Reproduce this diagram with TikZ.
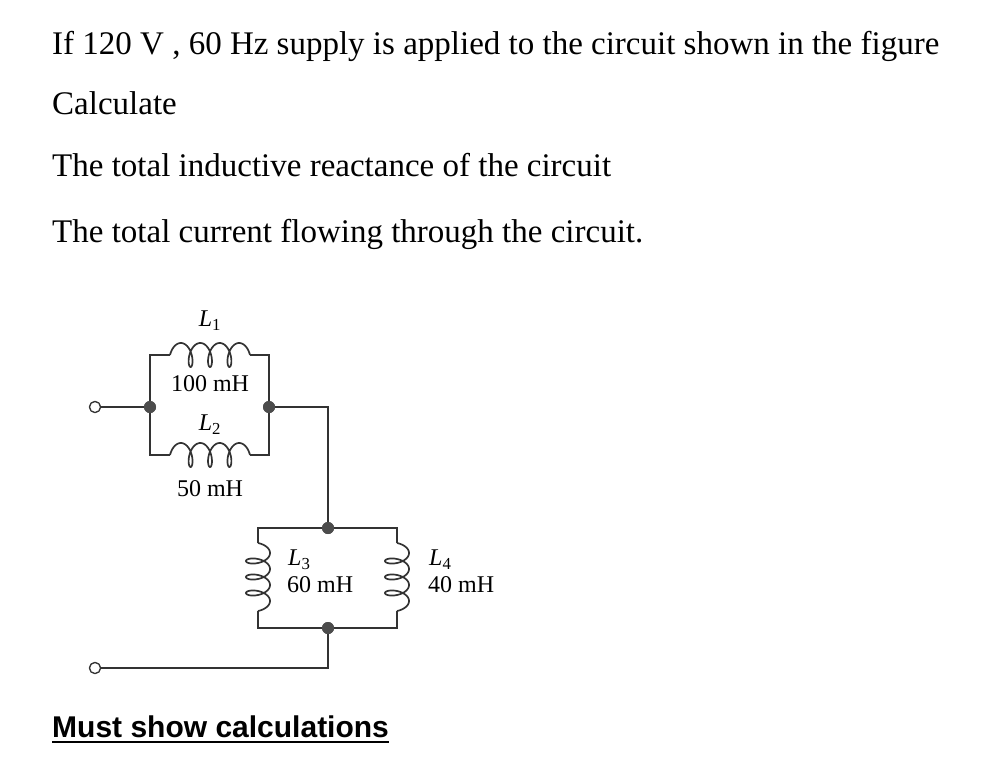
\documentclass[tikz,border=0pt]{standalone}
\usepackage{fontspec}
\setmainfont{Liberation Serif}
\setsansfont{Liberation Sans}
\tikzset{
 wire/.style={line width=1.7pt, draw=black!80},
 dot/.style={circle, fill=black!70, inner sep=0pt, minimum size=12pt},
 term/.style={circle, draw=black!80, fill=white, line width=1.2pt, inner sep=0pt, minimum size=11pt},
 qtext/.style={anchor=base west, inner sep=0pt, font=\fontsize{33}{38}\selectfont},
 lab/.style={inner sep=0pt, font=\fontsize{24}{26}\selectfont}
}
\newcommand{\mycoil}[4]{% x0,y0,rotation,length
 \begin{scope}[shift={(#1,#2)}, x=1pt, y=1pt, rotate=#3]
 \pgfmathsetmacro{\cc}{(#4-12)/(7*pi)}
 \draw[wire] plot[domain=1.5708:23.562, samples=240, smooth] ({\cc*(\x-1.5708)-6*sin(\x r)+6},{-12*cos(\x r)});
 \end{scope}}
\begin{document}
\begin{tikzpicture}[x=1pt,y=-1pt]
\useasboundingbox (0,0) rectangle (992,770);
\node[qtext] (t1) at (52,55) {If 120 V , 60 Hz supply is applied to the circuit shown in the figure};
\node[qtext] (t2) at (52,115) {Calculate};
\node[qtext] (t3) at (52,177) {The total inductive reactance of the circuit};
\node[qtext] (t4) at (52,242) {The total current flowing through the circuit.};
\node[anchor=base west, inner sep=0pt, font=\sffamily\bfseries\fontsize{30}{34}\selectfont] (t5) at (52,737) {Must show calculations};
\draw[line width=1.8pt] ([yshift=-5pt]t5.base west) -- ([yshift=-5pt]t5.base east);
% nodes
\node[dot] (a) at (150,407) {};
\node[dot] (b) at (269,407) {};
\node[dot] (c) at (328,528) {};
\node[dot] (d) at (328,628) {};
\node[term] (ta) at (95,407) {};
\node[term] (tb) at (95,668) {};
\coordinate (a1) at (150,355); \coordinate (b1) at (269,355);
\coordinate (a2) at (150,455); \coordinate (b2) at (269,455);
\coordinate (l1s) at (170,355); \coordinate (l1e) at (250,355);
\coordinate (l2s) at (170,455); \coordinate (l2e) at (250,455);
\coordinate (bc) at (328,407);
\coordinate (cl) at (258,528); \coordinate (cr) at (397,528);
\coordinate (dl) at (258,628); \coordinate (dr) at (397,628);
\coordinate (l3s) at (258,543); \coordinate (l3e) at (258,611);
\coordinate (l4s) at (397,543); \coordinate (l4e) at (397,611);
\coordinate (tbc) at (328,668);
\draw[wire] (ta) -- (a);
\draw[wire] (l1s) -- (a1) -- (a) -- (a2) -- (l2s);
\draw[wire] (l1e) -- (b1) -- (b) -- (b2) -- (l2e);
\draw[wire] (b) -- (bc) -- (c);
\draw[wire] (l3s) -- (cl) -- (c) -- (cr) -- (l4s);
\draw[wire] (l3e) -- (dl) -- (d) -- (dr) -- (l4e);
\draw[wire] (d) -- (tbc) -- (tb);
\mycoil{170}{355}{0}{80}
\mycoil{170}{455}{0}{80}
\mycoil{258}{543}{-90}{68}
\mycoil{397}{543}{-90}{68}
\node[dot] at (a) {}; \node[dot] at (b) {}; \node[dot] at (c) {}; \node[dot] at (d) {};
\node[term] at (ta) {}; \node[term] at (tb) {};
\node[lab] (n1) at (210,321) {\textit{L}\textsubscript{1}};
\node[lab] (n2) at (210,384) {100 mH};
\node[lab] (n3) at (210,425) {\textit{L}\textsubscript{2}};
\node[lab] (n4) at (210,489) {50 mH};
\node[lab, anchor=west] (n5) at (288,560) {\textit{L}\textsubscript{3}};
\node[lab, anchor=west] (n6) at (287,585) {60 mH};
\node[lab, anchor=west] (n7) at (429,560) {\textit{L}\textsubscript{4}};
\node[lab, anchor=west] (n8) at (428,585) {40 mH};
\end{tikzpicture}
\end{document}
